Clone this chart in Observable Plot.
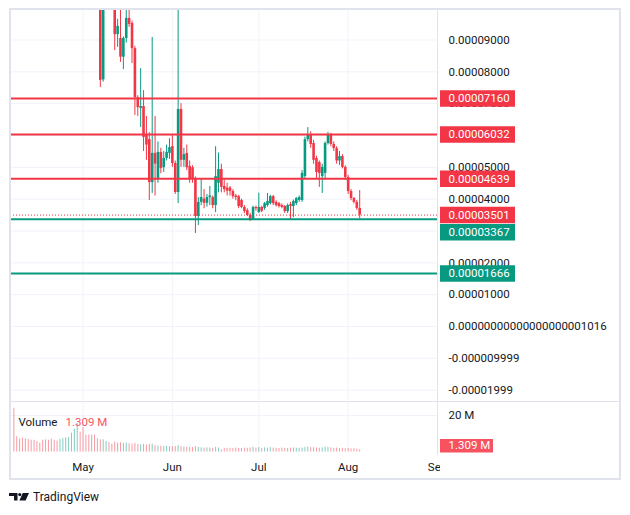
<!DOCTYPE html>
<html><head><meta charset="utf-8">
<script src="https://cdn.jsdelivr.net/npm/d3@7"></script>
<script src="https://cdn.jsdelivr.net/npm/@observablehq/plot@0.6"></script>
<style>
html,body{margin:0;padding:0;background:#fff;}
#chart{position:relative;width:630px;height:515px;overflow:hidden;font-family:Roboto,sans-serif;background:#fff;}
#chart > svg, #chart > div{position:absolute;}
</style></head><body><div id="chart"></div>
<script>
// ---------- DATA ----------
const firstDay = "2024-04-07"; // one candle per day
// prices in units of 0.00001
const open  = [20.0,17.0,16.2,15.5,14.8,14.2,13.8,13.3,12.9,12.4,12.1,11.8,11.5,11.3,11.0,10.8,10.6,11.2,11.9,12.6,13.2,14.0,15.0,16.5,15.2,13.8,12.8,12.1,12.6,12.0,
  11.2,7.75,11.2,11.6,10.9,10.5,9.17,9.05,8.46,9.05,9.68,9.52,8.73,7.19,6.85,6.91,6.0,5.87,4.52,5.44,4.62,5.47,4.99,5.28,5.44,5.65,5.12,4.21,6.82,5.22,
  5.44,5.03,4.99,4.65,3.46,3.9,4.0,3.87,4.05,4.05,3.8,4.5,4.93,4.4,4.35,4.35,4.24,4.1,4.08,3.96,3.74,3.64,3.49,3.36,3.74,3.58,3.74,3.71,3.8,3.86,
  4.08,3.9,3.86,3.8,3.77,3.61,3.83,3.77,3.86,3.96,3.96,4.71,5.87,6.0,5.75,5.28,5.15,4.71,4.81,5.75,6.03,5.72,5.59,5.2,5.34,5.0,4.68,4.24,4.02,3.9,3.71];
const high  = [21.5,17.6,16.8,16.0,15.3,14.7,14.2,13.8,13.3,12.8,12.5,12.2,11.9,11.7,11.4,11.2,11.4,12.1,12.9,13.5,14.3,15.4,17.2,16.9,15.6,14.2,13.1,13.0,12.9,12.3,
  11.5,11.8,12.0,11.8,11.1,10.6,9.65,10.2,9.1,10.2,10.2,9.6,8.8,7.25,8.1,7.41,6.6,6.09,9.08,6.6,5.8,5.6,5.5,5.7,5.9,6.0,5.2,10.2,7.0,5.6,
  5.7,5.2,5.05,4.7,4.05,4.65,4.3,4.15,4.4,4.1,5.65,5.45,5.1,4.6,4.5,4.4,4.3,4.15,4.12,4.0,3.8,3.7,3.55,3.78,3.78,4.19,3.78,3.9,4.18,4.12,
  4.12,3.95,3.9,3.85,3.8,3.85,3.9,3.97,4.05,4.1,4.9,5.95,6.25,6.12,5.85,5.35,5.2,5.1,5.8,6.1,6.07,5.8,5.65,5.5,5.4,5.05,4.75,4.3,4.05,3.96,4.27];
const low   = [16.4,15.9,15.1,14.5,13.9,13.5,13.0,12.6,12.1,11.8,11.5,11.2,11.0,10.7,10.5,10.3,10.4,11.0,11.7,12.3,13.0,13.8,14.8,14.8,13.4,12.5,11.8,11.9,11.7,10.9,
  7.51,7.68,10.9,10.6,10.2,8.67,8.77,8.3,8.07,8.9,9.4,8.26,6.63,6.6,6.25,5.5,5.22,3.96,4.18,4.1,4.5,4.8,4.84,5.2,5.25,5.0,4.15,3.86,5.0,5.0,
  4.9,4.5,4.5,2.92,3.17,3.8,3.7,3.75,3.8,3.7,3.58,4.2,4.2,4.2,4.1,4.1,4.0,3.95,3.7,3.7,3.55,3.45,3.3,3.34,3.62,3.55,3.58,3.65,3.75,3.82,
  3.8,3.75,3.72,3.7,3.55,3.55,3.36,3.42,3.8,3.9,3.9,4.65,5.8,5.6,5.1,4.65,4.37,4.18,4.6,5.7,5.65,5.5,5.1,5.06,4.95,4.6,4.15,3.95,3.85,3.65,3.39];
const close = [17.0,16.2,15.5,14.8,14.2,13.8,13.3,12.9,12.4,12.1,11.8,11.5,11.3,11.0,10.8,10.6,11.2,11.9,12.6,13.2,14.0,15.0,16.5,15.2,13.8,12.8,12.1,12.6,12.0,11.2,
  7.73,11.2,11.6,10.9,10.5,9.17,9.43,8.46,9.05,9.68,9.49,8.73,7.19,6.88,6.91,5.94,5.7,4.52,5.44,5.1,5.47,4.96,5.28,5.47,5.62,5.12,4.21,6.82,5.22,5.4,
  4.99,4.65,4.62,3.46,3.9,4.05,3.87,4.05,4.1,3.8,4.71,4.93,4.37,4.3,4.25,4.24,4.08,4.05,3.77,3.74,3.61,3.49,3.36,3.74,3.70,3.74,3.62,3.86,3.93,4.08,
  3.86,3.8,3.77,3.74,3.61,3.8,3.77,3.93,4.02,4.05,4.81,5.87,6.0,5.72,5.22,4.84,4.81,5.0,5.75,6.03,5.72,5.59,5.2,5.34,5.0,4.68,4.24,4.02,3.9,3.71,3.501];
// volume in millions
const volume = [24,8.5,7.3,7.6,7.3,6.9,6.5,6.5,5.8,4.9,6.5,6.7,6.5,7.1,6.5,6.0,6.9,7.3,7.8,8.0,10.4,12.5,15.6,10.9,13.4,9.3,9.3,9.3,9.4,7.3,
  6.7,6.7,5.8,5.3,4.4,5.5,5.0,5.2,4.8,5.0,4.6,4.4,4.8,4.2,4.0,4.3,3.9,4.2,4.4,3.6,3.4,3.3,3.0,3.2,3.0,2.9,3.1,3.6,3.0,2.8,
  2.7,2.6,2.5,3.0,2.6,2.4,2.2,2.3,2.2,2.1,2.6,2.3,1.3,2.1,2.0,2.1,2.0,2.2,2.1,2.0,2.2,2.1,2.3,2.6,2.2,2.5,2.1,2.4,2.2,2.5,
  2.2,2.1,2.0,2.2,2.1,2.0,2.2,2.3,2.2,2.1,2.2,2.6,2.8,2.5,2.4,2.3,2.1,2.4,2.7,2.6,2.3,2.1,2.2,2.0,2.1,1.9,2.0,1.8,1.9,1.7,1.309];

const priceTicks = [-0.00002,-0.00001,0,0.00001,0.00002,0.00003,0.00004,0.00005,0.00006,0.00007,0.00008,0.00009];
const priceTickLabels = ["-0.00001999","-0.000009999","0.00000000000000000001016","0.00001000","0.00002000","0.00003000",
  "0.00004000","0.00005000","0.00006000","0.00007000","0.00008000","0.00009000"];
const levelValues = [0.00007160,0.00006032,0.00004639,0.00003367,0.00001666];
const levelLabels = ["0.00007160","0.00006032","0.00004639","0.00003367","0.00001666"];
const levelKinds  = ["resistance","resistance","resistance","support","support"];
const lastPrice = 0.00003501, lastPriceLabel = "0.00003501";
const volumeTicks = [20e6], volumeTickLabels = ["20 M"];
const lastVolume = 1.309e6, lastVolumeLabel = "1.309 M";
const monthStarts = ["2024-05-01","2024-06-01","2024-07-01","2024-08-01","2024-09-01"];
const monthLabels = ["May","Jun","Jul","Aug","Sep"];

// ---------- STYLE ----------
const UP = "#089981", DOWN = "#F23645", VOL_UP = "rgba(8,153,129,0.5)", VOL_DOWN = "rgba(242,54,69,0.5)";
const GRID = "#f0f3fa", SEP = "#e0e3eb", TEXT = "#131722";
const KIND_COLOR = {resistance: DOWN, support: UP};
const FONT = {fontFamily: "Roboto, sans-serif", fontSize: "11.5px", background: "transparent", color: TEXT};
const X_DOMAIN = [new Date("2024-04-05T20:00:00Z"), new Date("2024-09-01T00:00:00Z")];
const Y_DOMAIN = [-0.00002325, 0.00009928];
const V_DOMAIN = [0, 27.63e6];

// ---------- TABLES ----------
const day0 = new Date(firstDay + "T00:00:00Z");
const candles = open.map((o, i) => ({
  date: d3.utcDay.offset(day0, i),
  open: o * 1e-5, high: high[i] * 1e-5, low: low[i] * 1e-5, close: close[i] * 1e-5,
  volume: volume[i] * 1e6
}));
candles.forEach(d => { d.up = d.close >= d.open; });
const months = monthStarts.map((s, i) => ({date: new Date(s + "T00:00:00Z"), label: monthLabels[i]}));
const gridMonths = months.slice(0, 4).map(d => d.date);
const ticks = priceTicks.map((v, i) => ({value: v, label: priceTickLabels[i]}));
const levels = levelValues.map((v, i) => ({value: v, label: levelLabels[i], color: KIND_COLOR[levelKinds[i]], kind: levelKinds[i]}));

const chart = document.getElementById("chart");
function place(el, left, top) { el.style.left = left + "px"; el.style.top = top + "px"; chart.appendChild(el); }

// ---------- MAIN PRICE PANE ----------
const main = Plot.plot({
  width: 437, height: 401, marginLeft: 10, marginRight: 0, marginTop: 10, marginBottom: 1,
  x: {type: "utc", domain: X_DOMAIN, axis: null},
  y: {domain: Y_DOMAIN, axis: null},
  color: {type: "identity"},
  style: FONT,
  marks: [
    Plot.ruleY(priceTicks, {stroke: GRID}),
    Plot.ruleX(gridMonths, {stroke: GRID}),
    Plot.ruleX(candles, {x: "date", y1: "low", y2: "high", stroke: d => d.up ? UP : DOWN, strokeWidth: 1, clip: true}),
    Plot.ruleX(candles, {x: "date", y1: "open", y2: "close", stroke: d => d.up ? UP : DOWN, strokeWidth: 2.6, clip: true}),
    Plot.ruleY([lastPrice], {stroke: DOWN, strokeWidth: 1, strokeDasharray: "1,2"}),
    Plot.ruleY(levels, {y: "value", stroke: "color", strokeWidth: 2})
  ]
});
place(main, 0, 0);

// ---------- PRICE AXIS ----------
const boxLevels = levels.filter(d => d.kind === "resistance" || d.value < 0.00003);
const shiftedLevels = levels.filter(d => d.kind === "support" && d.value > 0.00003);
const lastTable = [{value: lastPrice, label: lastPriceLabel, color: DOWN}];
const priceAxis = Plot.plot({
  width: 183, height: 401, marginLeft: 3, marginRight: 105, marginTop: 10, marginBottom: 1,
  y: {domain: Y_DOMAIN, axis: null},
  color: {type: "identity"},
  style: FONT,
  marks: [
    Plot.text(ticks, {y: "value", text: "label", frameAnchor: "left", textAnchor: "start", dx: 8, fill: TEXT}),
    Plot.ruleY(boxLevels, {y: "value", stroke: "color", strokeWidth: 16.5}),
    Plot.text(boxLevels, {y: "value", text: "label", frameAnchor: "left", textAnchor: "start", dx: 8, fill: "white"}),
    Plot.ruleY(lastTable, {y: "value", stroke: "color", strokeWidth: 16.5}),
    Plot.text(lastTable, {y: "value", text: "label", frameAnchor: "left", textAnchor: "start", dx: 8, fill: "white"}),
    Plot.ruleY(shiftedLevels, {y: "value", stroke: "color", strokeWidth: 16.5, dy: 13}),
    Plot.text(shiftedLevels, {y: "value", text: "label", frameAnchor: "left", textAnchor: "start", dx: 8, dy: 13, fill: "white"})
  ]
});
place(priceAxis, 437, 0);

// ---------- VOLUME PANE ----------
const volPane = Plot.plot({
  width: 437, height: 54, marginLeft: 10, marginRight: 0, marginTop: 0, marginBottom: 3.3,
  x: {type: "utc", domain: X_DOMAIN, axis: null},
  y: {domain: V_DOMAIN, axis: null},
  color: {type: "identity"},
  style: FONT,
  marks: [
    Plot.ruleY(volumeTicks, {stroke: GRID}),
    Plot.ruleX(gridMonths, {stroke: GRID}),
    Plot.ruleX(candles, {x: "date", y1: () => 0, y2: "volume", stroke: d => d.up ? VOL_UP : VOL_DOWN, strokeWidth: 1, clip: true}),
    Plot.text(["Volume"], {frameAnchor: "top-left", textAnchor: "start", dx: 8, dy: 16.7, fill: TEXT}),
    Plot.text([lastVolumeLabel], {frameAnchor: "top-left", textAnchor: "start", dx: 55, dy: 16.7, fill: "#F7525F"})
  ]
});
place(volPane, 0, 401);

const volAxis = Plot.plot({
  width: 183, height: 54, marginLeft: 3, marginRight: 127, marginTop: 0, marginBottom: 3.3,
  y: {domain: V_DOMAIN, axis: null},
  style: FONT,
  marks: [
    Plot.text(volumeTicks, {y: d => d, text: (d, i) => volumeTickLabels[i], frameAnchor: "left", textAnchor: "start", dx: 8, fill: TEXT}),
    Plot.ruleY([lastVolume], {stroke: "#F7525F", strokeWidth: 13.5, dy: -4}),
    Plot.text([lastVolume], {y: d => d, text: () => lastVolumeLabel, frameAnchor: "left", textAnchor: "start", dx: 8, dy: -4, fill: "white"})
  ]
});
place(volAxis, 437, 401);

// ---------- TIME AXIS ----------
const timeAxis = Plot.plot({
  width: 440, height: 24, marginLeft: 10, marginRight: 3, marginTop: 0, marginBottom: 0,
  x: {type: "utc", domain: X_DOMAIN, axis: null},
  style: {...FONT, overflow: "hidden"},
  marks: [
    Plot.text(months, {x: "date", text: "label", fill: TEXT})
  ]
});
place(timeAxis, 0, 455);

// ---------- SEPARATORS & FRAME ----------
function line(left, top, w, h) {
  const d = document.createElement("div");
  d.style.width = w + "px"; d.style.height = h + "px"; d.style.background = SEP;
  place(d, left, top);
}
line(437, 9, 1, 446);   // pane / price scale separator
line(10, 401, 610, 1);  // price / volume separator
const frame = document.createElement("div");
frame.style.cssText = "width:612px;height:472px;border:2px solid " + SEP + ";box-sizing:border-box;pointer-events:none;";
place(frame, 9, 8);

// ---------- BRAND ----------
const brand = document.createElement("div");
brand.style.cssText = "display:flex;align-items:center;height:16px;font:12px Roboto,sans-serif;color:" + TEXT + ";";
brand.innerHTML = '<svg width="20" height="8" viewBox="0 0 20 8" style="margin-right:4px">' +
  '<path d="M0 0H8.5V7.5H5V3H0Z" fill="#131722"/><circle cx="10.8" cy="1.6" r="1.6" fill="#131722"/>' +
  '<path d="M13.8 0H20L16.6 7.5H10.4Z" fill="#131722"/></svg><span>TradingView</span>';
place(brand, 9, 489);
</script></body></html>
